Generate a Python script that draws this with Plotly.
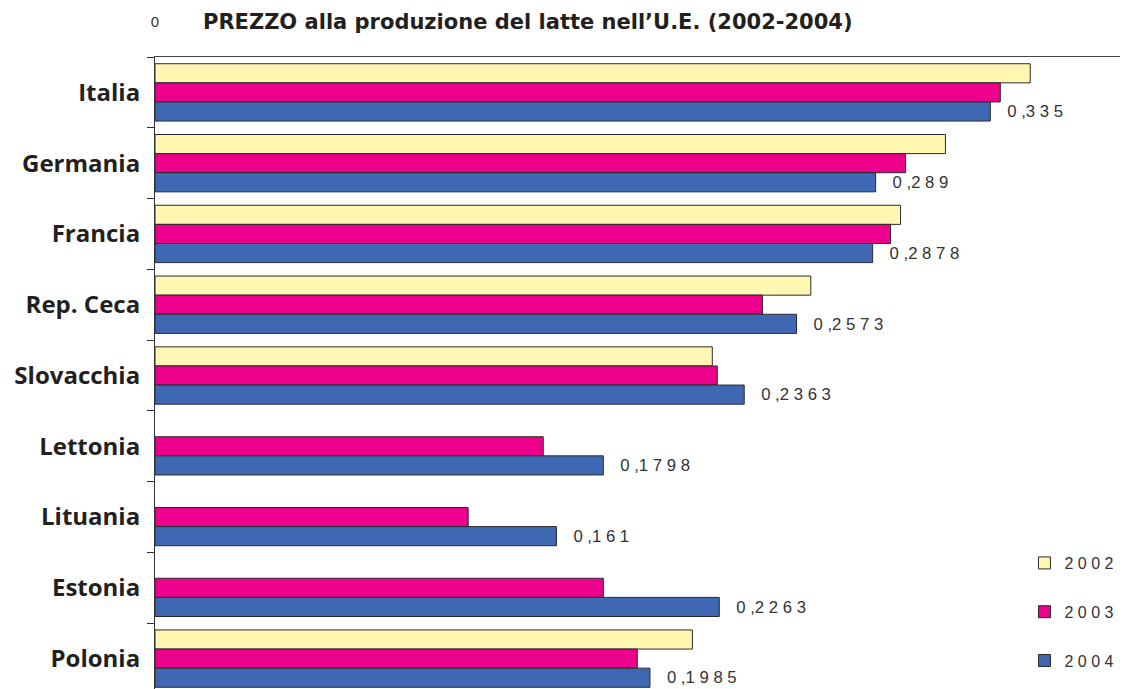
import plotly.graph_objects as go

categories = ["Italia", "Germania", "Francia", "Rep. Ceca", "Slovacchia",
              "Lettonia", "Lituania", "Estonia", "Polonia"]
years = ["2002", "2003", "2004"]
v2002 = [0.351, 0.317, 0.299, 0.263, 0.2235, None, None, None, 0.2155]
v2003 = [0.339, 0.301, 0.295, 0.2436, 0.2255, 0.1557, 0.1256, 0.1798, 0.1934]
v2004 = [0.335, 0.289, 0.2878, 0.2573, 0.2363, 0.1798, 0.161, 0.2263, 0.1985]
labels_2004 = ["0,335", "0,289", "0,2878", "0,2573", "0,2363",
               "0,1798", "0,161", "0,2263", "0,1985"]
legend_labels = ["2 0 0 2", "2 0 0 3", "2 0 0 4"]
colors = ["#FFF7B2", "#EC008C", "#3F68B2"]


def spaced(s):
    # mimic the letter-spaced labels of the original
    head, tail = s.split(",")
    return "\u00a0\u00a0\u00a0" + head + " ," + " ".join(tail)


series = [v2002, v2003, v2004]
fig = go.Figure()
for i, (yr, vals) in enumerate(zip(years, series)):
    kw = {}
    if i == 2:
        kw = dict(text=[spaced(t) for t in labels_2004], textposition="outside",
                  textfont=dict(family="Liberation Sans", size=17.5, color="#333333"),
                  cliponaxis=False)
    fig.add_trace(go.Bar(
        y=categories, x=vals, name=legend_labels[i], orientation="h",
        marker=dict(color=colors[i], line=dict(color="#2a2a2a", width=1)),
        legendgroup=yr, hoverinfo="skip", **kw))

# page body has an 8px margin, so the figure is offset by 8px
W, H = 1128, 686
fig.update_layout(
    width=W, height=H,
    margin=dict(l=147, r=16, t=49, b=0),
    paper_bgcolor="white", plot_bgcolor="white",
    barmode="group", bargap=0.19, bargroupgap=0,
    showlegend=True,
    title=dict(text="PREZZO alla produzione del latte nell\u2019U.E. (2002-2004)",
               x=195 / W, xanchor="left", y=1 - 14 / H, yanchor="middle",
               font=dict(family="DejaVu Sans", size=21, color="#231f20", weight="bold")),
    legend=dict(x=0.901, xanchor="left", y=0.2323, yanchor="top",
                traceorder="grouped", tracegroupgap=25,
                font=dict(family="Liberation Sans", size=16, color="#333333"),
                bgcolor="rgba(0,0,0,0)"),
)
fig.update_xaxes(side="top", range=[0, 0.387], showline=True, linecolor="#444444",
                 linewidth=1, showgrid=False, zeroline=False, ticks="",
                 tickvals=[0], ticktext=["0"], ticklabelstandoff=23, automargin=False,
                 tickfont=dict(family="Liberation Sans", size=15, color="#333333"))
fig.update_yaxes(autorange="reversed", showline=True, linecolor="#333333", linewidth=1,
                 ticks="outside", tickson="boundaries", ticklen=7, tickcolor="#333333",
                 showgrid=False, ticklabelstandoff=9, automargin=False,
                 tickfont=dict(family="Open Sans", size=24, color="#231f20", weight="bold"))

fig.write_html("out.html")
